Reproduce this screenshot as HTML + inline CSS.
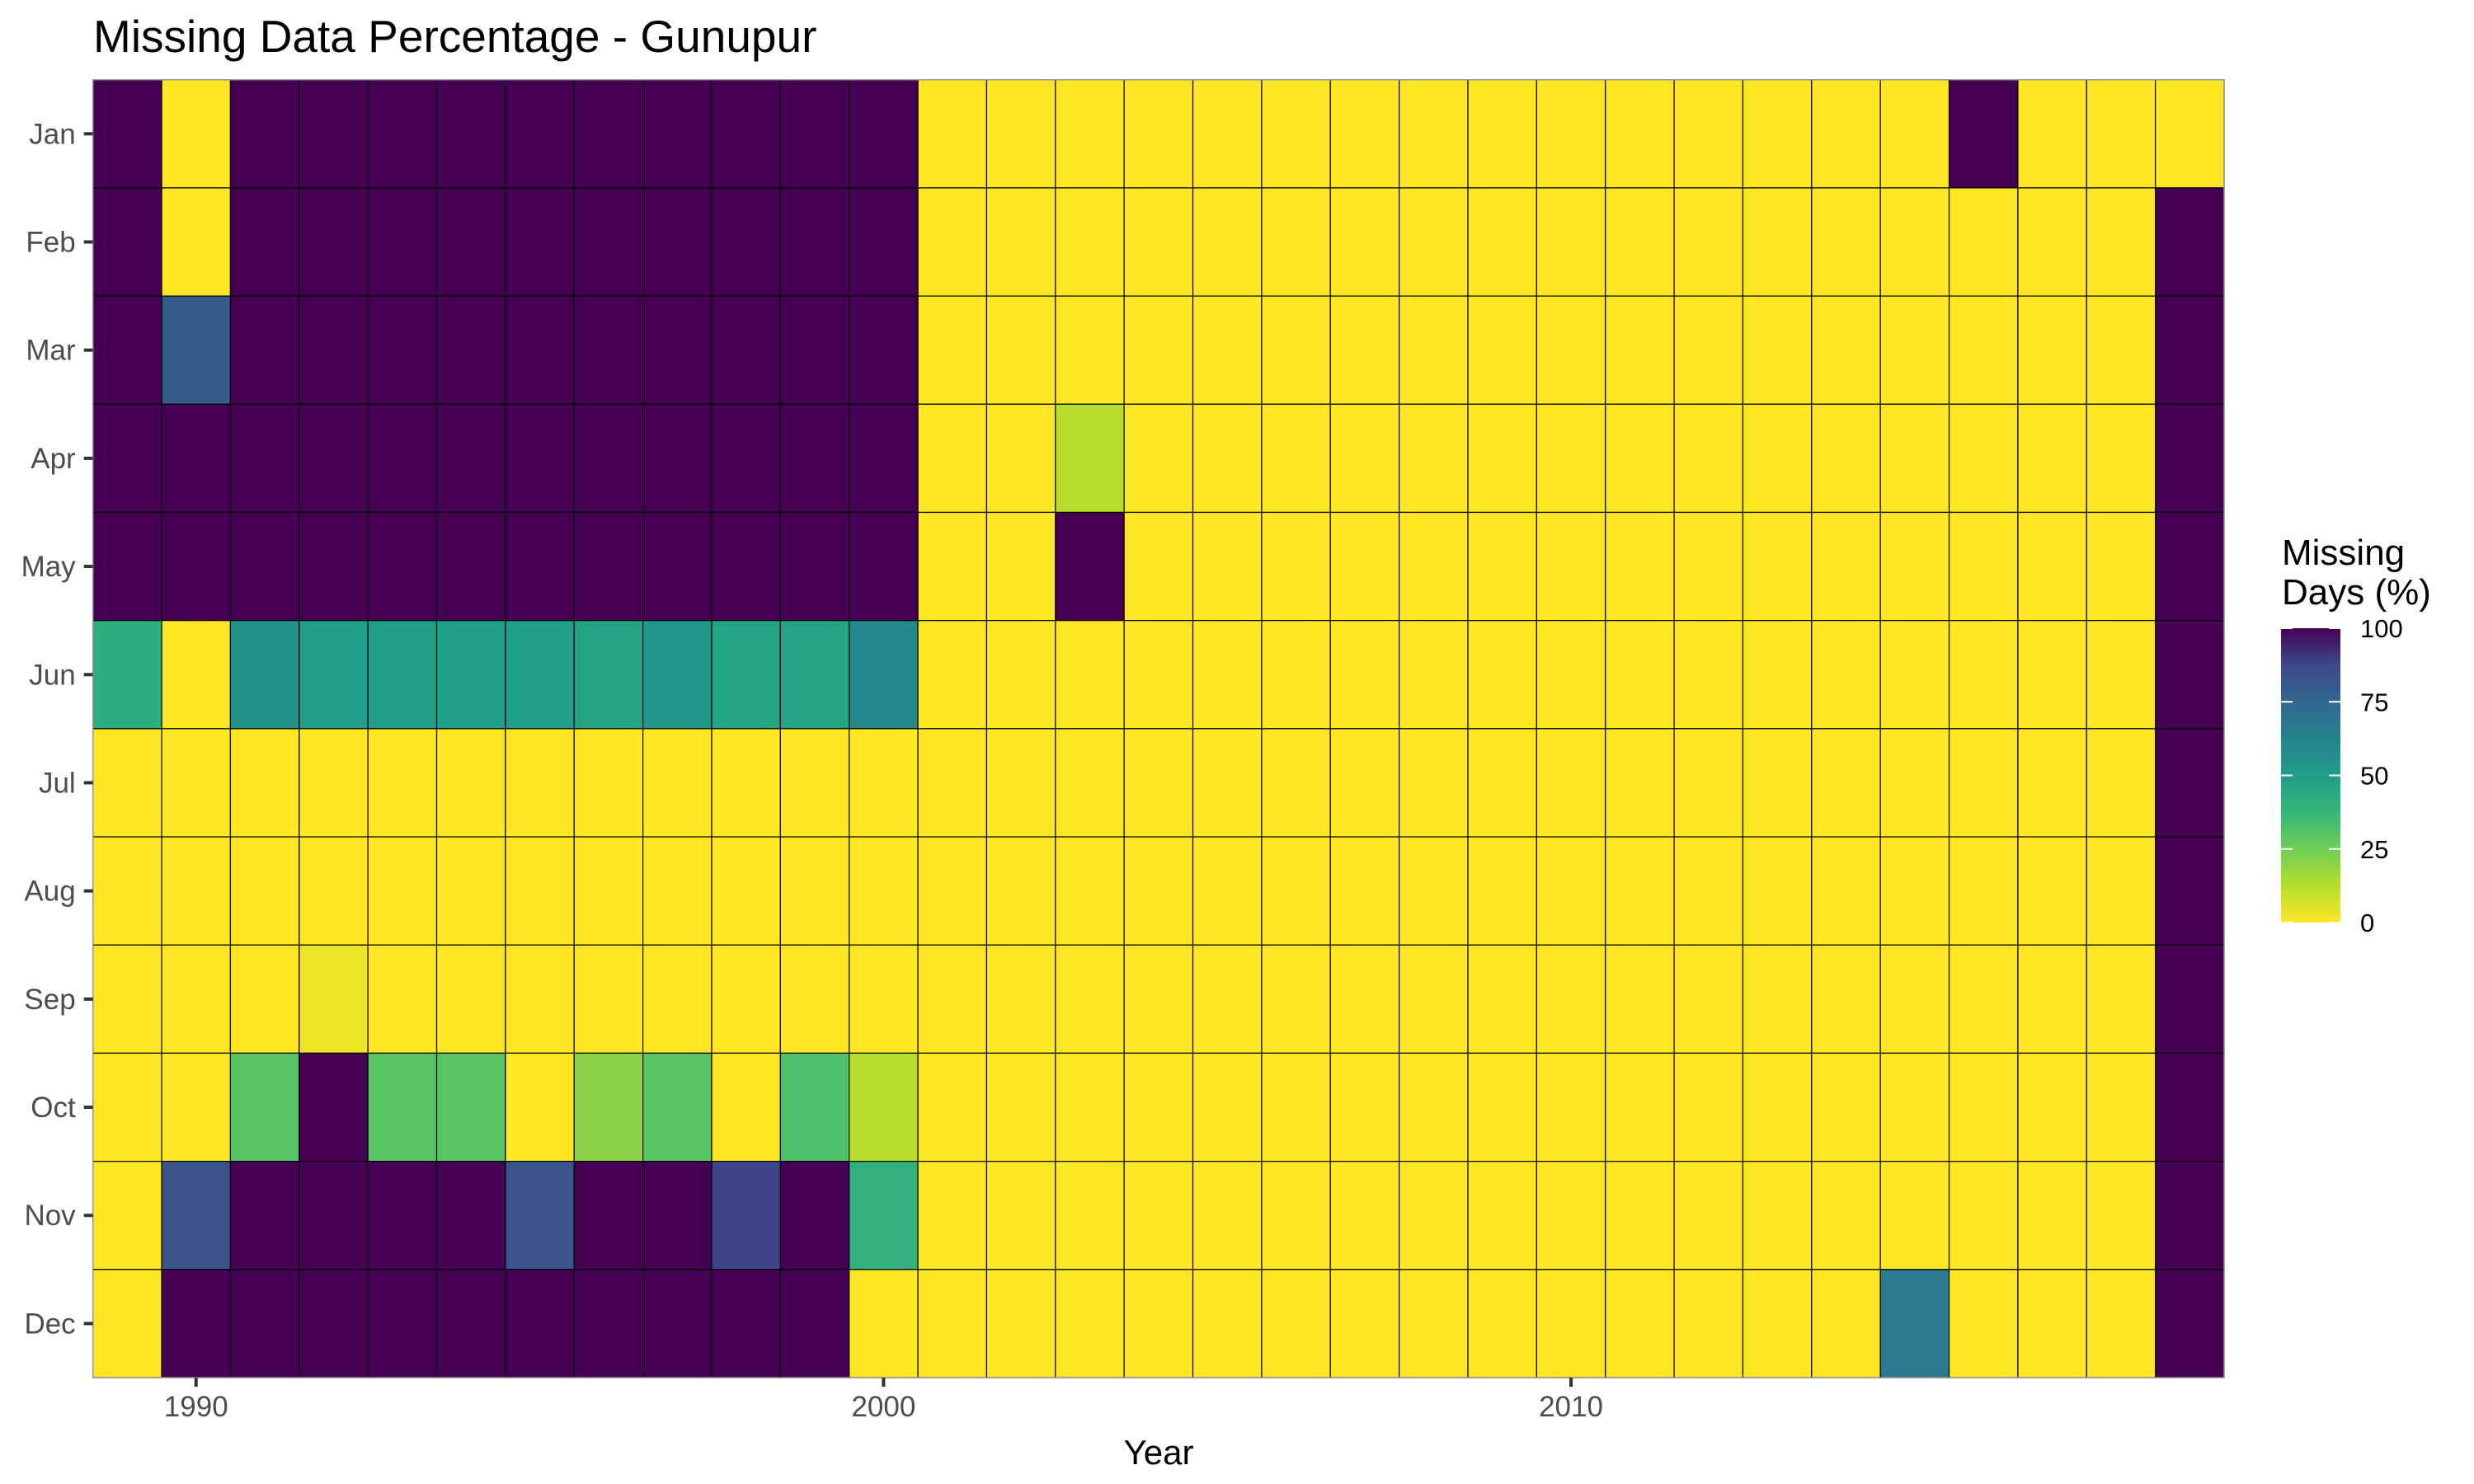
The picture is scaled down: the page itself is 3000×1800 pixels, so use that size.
<!DOCTYPE html>
<html><head><meta charset="utf-8"><style>
html,body{margin:0;padding:0;background:#fff;}
svg{display:block;font-family:"Liberation Sans",Arial,sans-serif;}
</style></head><body>
<svg id="chart" width="3000" height="1800" viewBox="0 0 3000 1800" xmlns="http://www.w3.org/2000/svg">
<defs>
<linearGradient id="vir" x1="0" y1="1" x2="0" y2="0">
<stop offset="0" stop-color="#fde725"/><stop offset="0.125" stop-color="#b5de2b"/><stop offset="0.25" stop-color="#6ece58"/><stop offset="0.375" stop-color="#35b779"/><stop offset="0.5" stop-color="#1f9e89"/><stop offset="0.625" stop-color="#26828e"/><stop offset="0.75" stop-color="#31688e"/><stop offset="0.875" stop-color="#3e4989"/><stop offset="1" stop-color="#440154"/>
</linearGradient>
</defs>
<text x="113" y="63" font-size="55" fill="#000">Missing Data Percentage - Gunupur</text>
<g id="cells"></g>
<g id="axes"></g>
<text x="1405" y="1776" font-size="42" text-anchor="middle" fill="#000">Year</text>
<g>
<text x="2767" y="685" font-size="44" fill="#000">Missing</text>
<text x="2767" y="733" font-size="44" fill="#000">Days (%)</text>
<rect x="2766" y="762" width="72" height="357" fill="url(#vir)"/>
<g id="legticks"></g>
</g>
</svg>
<script>
const years = [];
for (let y = 1989; y <= 2019; y++) years.push(y);
const months = ["Jan","Feb","Mar","Apr","May","Jun","Jul","Aug","Sep","Oct","Nov","Dec"];
const xTicks = [1990, 2000, 2010];
const legendTicks = [0, 25, 50, 75, 100];
// values per month, 1989..2019 (31 entries)
const vJan = [100,0,100,100,100,100,100,100,100,100,100,100,0,0,0,0,0,0,0,0,0,0,0,0,0,0,0,100,0,0,0];
const vFeb = [100,0,100,100,100,100,100,100,100,100,100,100,0,0,0,0,0,0,0,0,0,0,0,0,0,0,0,0,0,0,100];
const vMar = [100,80,100,100,100,100,100,100,100,100,100,100,0,0,0,0,0,0,0,0,0,0,0,0,0,0,0,0,0,0,100];
const vApr = [100,100,100,100,100,100,100,100,100,100,100,100,0,0,12,0,0,0,0,0,0,0,0,0,0,0,0,0,0,0,100];
const vMay = [100,100,100,100,100,100,100,100,100,100,100,100,0,0,100,0,0,0,0,0,0,0,0,0,0,0,0,0,0,0,100];
const vJun = [42,0,55,50,50,50,50,47,53,47,47,60,0,0,0,0,0,0,0,0,0,0,0,0,0,0,0,0,0,0,100];
const vJul = [0,0,0,0,0,0,0,0,0,0,0,0,0,0,0,0,0,0,0,0,0,0,0,0,0,0,0,0,0,0,100];
const vAug = [0,0,0,0,0,0,0,0,0,0,0,0,0,0,0,0,0,0,0,0,0,0,0,0,0,0,0,0,0,0,100];
const vSep = [0,0,0,3,0,0,0,0,0,0,0,0,0,0,0,0,0,0,0,0,0,0,0,0,0,0,0,0,0,0,100];
const vOct = [0,0,30,100,30,30,0,20,30,0,32,12,0,0,0,0,0,0,0,0,0,0,0,0,0,0,0,0,0,0,100];
const vNov = [0,83,100,100,100,100,83,100,100,88,100,40,0,0,0,0,0,0,0,0,0,0,0,0,0,0,0,0,0,0,100];
const vDec = [0,100,100,100,100,100,100,100,100,100,100,0,0,0,0,0,0,0,0,0,0,0,0,0,0,0,67,0,0,0,100];
const values = [vJan,vFeb,vMar,vApr,vMay,vJun,vJul,vAug,vSep,vOct,vNov,vDec];

const L=112.7,R=2697,T=96.7,B=1671;
const cw=(R-L)/years.length, ch=(B-T)/months.length;
const xCenter = y => L + (y - years[0] + 0.5) * cw;
const yTop = i => T + i * ch;
const stops=[[253,231,37],[181,222,43],[110,206,88],[53,183,121],[31,158,137],[38,130,142],[49,104,142],[62,73,137],[68,1,84]];
function color(v){
  const t=Math.max(0,Math.min(1,v/100))*(stops.length-1);
  const i=Math.min(stops.length-2,Math.floor(t)), f=t-i;
  const c=stops[i].map((a,k)=>Math.round(a+(stops[i+1][k]-a)*f));
  return `rgb(${c[0]},${c[1]},${c[2]})`;
}
const NS="http://www.w3.org/2000/svg";
const cells=document.getElementById('cells');
months.forEach((m,i)=>{
  years.forEach((yr,j)=>{
    const r=document.createElementNS(NS,'rect');
    r.setAttribute('x',xCenter(yr)-cw/2);
    r.setAttribute('y',yTop(i));
    r.setAttribute('width',cw);
    r.setAttribute('height',ch);
    r.setAttribute('fill',color(values[i][j]));
    r.setAttribute('stroke','#000');
    r.setAttribute('stroke-width','1.2');
    
    
    cells.appendChild(r);
  });
});
const ax=document.getElementById('axes');
const border=document.createElementNS(NS,'rect');
border.setAttribute('x',L);border.setAttribute('y',T);border.setAttribute('width',R-L);border.setAttribute('height',B-T);
border.setAttribute('fill','none');border.setAttribute('stroke','#999');border.setAttribute('stroke-width','1.5');


ax.appendChild(border);
months.forEach((m,i)=>{
  const yc=yTop(i)+ch/2;
  const t=document.createElementNS(NS,'line');
  t.setAttribute('x1',L-11);t.setAttribute('x2',L);t.setAttribute('y1',yc);t.setAttribute('y2',yc);
  t.setAttribute('stroke','#333');t.setAttribute('stroke-width','4');
  
  
  ax.appendChild(t);
  const tx=document.createElementNS(NS,'text');
  tx.setAttribute('x',L-21);tx.setAttribute('y',yc+12);tx.setAttribute('text-anchor','end');
  tx.setAttribute('font-size','35');tx.setAttribute('fill','#4d4d4d');
  tx.textContent=m;
  
  
  ax.appendChild(tx);
});
xTicks.forEach(yr=>{
  const x=xCenter(yr);
  const t=document.createElementNS(NS,'line');
  t.setAttribute('x1',x);t.setAttribute('x2',x);t.setAttribute('y1',B);t.setAttribute('y2',B+11);
  t.setAttribute('stroke','#333');t.setAttribute('stroke-width','4');
  
  
  ax.appendChild(t);
  const tx=document.createElementNS(NS,'text');
  tx.setAttribute('x',x);tx.setAttribute('y',B+47);tx.setAttribute('text-anchor','middle');
  tx.setAttribute('font-size','35');tx.setAttribute('fill','#4d4d4d');
  tx.textContent=yr;
  
  
  ax.appendChild(tx);
});
const lg=document.getElementById('legticks');
const LT=762,LB=1119,LX=2766,LW=72;
legendTicks.forEach(v=>{
  const y=LB-(v/100)*(LB-LT);
  [[LX,LX+14],[LX+LW-14,LX+LW]].forEach(p=>{
    const t=document.createElementNS(NS,'line');
    t.setAttribute('x1',p[0]);t.setAttribute('x2',p[1]);t.setAttribute('y1',y);t.setAttribute('y2',y);
    t.setAttribute('stroke','#fff');t.setAttribute('stroke-width','2');
    
    
    lg.appendChild(t);
  });
  const tx=document.createElementNS(NS,'text');
  tx.setAttribute('x',2862);tx.setAttribute('y',y+11);
  tx.setAttribute('font-size','31');tx.setAttribute('fill','#000');
  tx.textContent=v;
  
  
  lg.appendChild(tx);
});
</script>
</body></html>
